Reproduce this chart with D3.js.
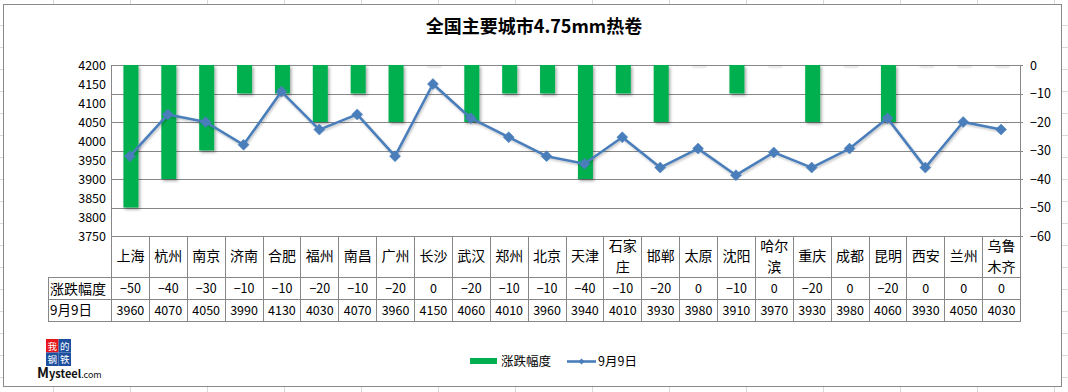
<!DOCTYPE html>
<html><head><meta charset="utf-8">
<script src="https://cdn.jsdelivr.net/npm/d3@7"></script>
<style>
html,body{margin:0;padding:0;background:#fff;}
svg{display:block;}
text{font-family:"Noto Sans CJK SC","Noto Sans",sans-serif;}
</style></head>
<body>
<svg id="chart" width="1068" height="392"></svg>
<script>
const categories = ["上海","杭州","南京","济南","合肥","福州","南昌","广州","长沙","武汉","郑州","北京","天津","石家庄","邯郸","太原","沈阳","哈尔滨","重庆","成都","昆明","西安","兰州","乌鲁木齐"];
const changeValues = [-50,-40,-30,-10,-10,-20,-10,-20,0,-20,-10,-10,-40,-10,-20,0,-10,0,-20,0,-20,0,0,0];
const priceValues = [3960,4070,4050,3990,4130,4030,4070,3960,4150,4060,4010,3960,3940,4010,3930,3980,3910,3970,3930,3980,4060,3930,4050,4030];
const leftTicks = [3750,3800,3850,3900,3950,4000,4050,4100,4150,4200];
const rightTicks = [0,-10,-20,-30,-40,-50,-60];
const seriesNames = ["涨跌幅度","9月9日"];
const titleText = "全国主要城市4.75mm热卷";

const svg = d3.select("#chart");
const W = 1068, H = 392;
const plot = {l:111, r:1020, t:65, b:236};
const rowH = {cat:277, r1:299, r2:321};
const tableLeft = 48;
const gridC = "#878787";
const green = "#00B050", blue = "#4A7EBB";

const defs = svg.append("defs");
const f = defs.append("filter").attr("id","sh").attr("x","-50%").attr("y","-20%").attr("width","200%").attr("height","160%");
f.append("feDropShadow").attr("dx",1.5).attr("dy",2).attr("stdDeviation",1.6).attr("flood-color","#000").attr("flood-opacity",0.35);
const f2 = defs.append("filter").attr("id","sh2").attr("x","-10%").attr("y","-20%").attr("width","120%").attr("height","160%");
f2.append("feDropShadow").attr("dx",1).attr("dy",1.5).attr("stdDeviation",1).attr("flood-color","#000").attr("flood-opacity",0.25);

// Spreadsheet background grid
const bg = svg.append("g");
d3.range(53, W, 77).forEach(x => bg.append("line").attr("x1",x+0.5).attr("x2",x+0.5).attr("y1",0).attr("y2",H).attr("stroke","#d9d9d9"));
d3.range(25, H, 22).forEach(y => bg.append("line").attr("x1",0).attr("x2",W).attr("y1",y+0.5).attr("y2",y+0.5).attr("stroke","#d9d9d9"));
// chart area
svg.append("rect").attr("x",3.5).attr("y",4.5).attr("width",1058).attr("height",382).attr("fill","#fff").attr("stroke","#8a8a8a").attr("stroke-width",1);

// Title
svg.append("text").attr("x",534).attr("y",33).attr("text-anchor","middle").attr("font-size",18).attr("font-weight","bold").attr("fill","#000").text(titleText);

const x = d3.scaleBand().domain(categories).range([plot.l, plot.r]);
const yL = d3.scaleLinear().domain([3750,4200]).range([plot.b, plot.t]);
const yR = d3.scaleLinear().domain([-60,0]).range([plot.b, plot.t]);

// gridlines (right axis)
svg.append("g").selectAll("line").data(rightTicks).join("line")
  .attr("x1",plot.l).attr("x2",plot.r+3)
  .attr("y1",d=>Math.round(yR(d))+0.5).attr("y2",d=>Math.round(yR(d))+0.5)
  .attr("stroke",gridC).attr("stroke-width",1);

// axes lines
svg.append("line").attr("x1",plot.l+0.5).attr("x2",plot.l+0.5).attr("y1",plot.t).attr("y2",rowH.r2).attr("stroke",gridC);
svg.append("line").attr("x1",plot.r+0.5).attr("x2",plot.r+0.5).attr("y1",plot.t).attr("y2",rowH.r2).attr("stroke",gridC);

// left axis labels
const lAxis = d3.axisLeft(yL).tickValues(leftTicks).tickSize(0).tickPadding(5).tickFormat(d3.format("d"));
const gl = svg.append("g").attr("transform",`translate(${plot.l},0)`).call(lAxis);
gl.select(".domain").remove();
gl.selectAll("text").attr("font-size",12.5).attr("fill","#000").attr("font-family","'DejaVu Sans Condensed','DejaVu Sans',sans-serif");

// right axis labels
const rAxis = d3.axisRight(yR).tickValues(rightTicks).tickSize(0).tickPadding(10).tickFormat(d => d===0 ? "0" : "\u2212" + Math.abs(d));
const gr = svg.append("g").attr("transform",`translate(${plot.r},0)`).call(rAxis);
gr.select(".domain").remove();
gr.selectAll("text").attr("font-size",12.5).attr("fill","#000").attr("font-family","'DejaVu Sans Condensed','DejaVu Sans',sans-serif");

// bars
const bw = 15;
svg.append("g").selectAll("rect").data(changeValues).join("rect")
  .attr("x",(d,i)=>x(categories[i]) + x.bandwidth()/2 - bw/2 + 1)
  .attr("y",yR(0))
  .attr("width",bw)
  .attr("height",d=>Math.max(yR(d)-yR(0), 0.01))
  .attr("fill",green).attr("filter","url(#sh)");
// faint smudge for zero bars
svg.append("g").selectAll("ellipse").data(changeValues.map((d,i)=>({d,i})).filter(o=>o.d===0)).join("ellipse")
  .attr("cx",o=>x(categories[o.i]) + x.bandwidth()/2 + 1.5)
  .attr("cy",yR(0)+2).attr("rx",8).attr("ry",1.6).attr("fill","#000").attr("opacity",0.07);

// line
const line = d3.line().x((d,i)=>x(categories[i]) + x.bandwidth()/2).y(d=>yL(d));
svg.append("path").datum(priceValues).attr("d",line).attr("fill","none").attr("stroke",blue).attr("stroke-width",2.6).attr("stroke-linejoin","round").attr("filter","url(#sh2)");
const diamond = "M0,-5.5L5.5,0L0,5.5L-5.5,0Z";
svg.append("g").selectAll("path").data(priceValues).join("path")
  .attr("transform",(d,i)=>`translate(${x(categories[i]) + x.bandwidth()/2},${yL(d)})`)
  .attr("d",diamond).attr("fill",blue).attr("stroke",blue).attr("stroke-width",0.5);

// data table
const tg = svg.append("g");
categories.forEach((c,i)=>{
  if(i===0) return;
  const xx = Math.round(x(c))+0.5;
  tg.append("line").attr("x1",xx).attr("x2",xx).attr("y1",plot.b).attr("y2",rowH.r2).attr("stroke",gridC);
});
tg.append("line").attr("x1",tableLeft+0.5).attr("x2",tableLeft+0.5).attr("y1",rowH.cat).attr("y2",rowH.r2).attr("stroke",gridC);
[rowH.cat,rowH.r1,rowH.r2].forEach(yy=>{
  tg.append("line").attr("x1",tableLeft).attr("x2",plot.r+1).attr("y1",yy+0.5).attr("y2",yy+0.5).attr("stroke",gridC);
});
categories.forEach((c,i)=>{
  const cx = x(c) + x.bandwidth()/2 + 0.5;
  let lines = [c];
  if(c.length>=3) lines = [c.slice(0,2), c.slice(2)];
  if(lines.length===1){
    tg.append("text").attr("x",cx).attr("y",261).attr("text-anchor","middle").attr("font-size",14).text(c);
  } else {
    tg.append("text").attr("x",cx).attr("y",251).attr("text-anchor","middle").attr("font-size",14).text(lines[0]);
    tg.append("text").attr("x",cx).attr("y",272).attr("text-anchor","middle").attr("font-size",14).text(lines[1]);
  }
});
tg.append("text").attr("x",50).attr("y",294).attr("font-size",14).text(seriesNames[0]);
tg.append("text").attr("x",50).attr("y",315).attr("font-size",13.5).text(seriesNames[1]);
const numFont = "'DejaVu Sans Condensed','DejaVu Sans',sans-serif";
changeValues.forEach((d,i)=>{
  tg.append("text").attr("x",x(categories[i]) + x.bandwidth()/2 + 0.5).attr("y",293).attr("text-anchor","middle")
    .attr("font-size",12.5).attr("font-family",numFont).text(d===0?"0":"\u2212"+Math.abs(d));
});
priceValues.forEach((d,i)=>{
  tg.append("text").attr("x",x(categories[i]) + x.bandwidth()/2 + 0.5).attr("y",315).attr("text-anchor","middle")
    .attr("font-size",12.5).attr("font-family",numFont).text(d);
});

// legend
const lg = svg.append("g");
lg.append("rect").attr("x",470).attr("y",358).attr("width",27).attr("height",6).attr("fill",green);
lg.append("text").attr("x",501).attr("y",366).attr("font-size",12.5).text(seriesNames[0]);
lg.append("line").attr("x1",567).attr("x2",596).attr("y1",361.5).attr("y2",361.5).attr("stroke",blue).attr("stroke-width",2.6);
lg.append("path").attr("transform","translate(581.5,361.5)").attr("d","M0,-3L3,0L0,3L-3,0Z").attr("fill",blue);
lg.append("text").attr("x",598).attr("y",366).attr("font-size",12.5).text(seriesNames[1]);

// logo
const logo = svg.append("g");
const sq = [["我","#e8141a",46,339],["的","#1d4f9f",58.5,339],["钢","#1d4f9f",46,352.5],["铁","#1d4f9f",58.5,352.5]];
sq.forEach(s=>{
  logo.append("rect").attr("x",s[2]).attr("y",s[3]).attr("width",12.5).attr("height",13.5).attr("fill",s[1]);
  logo.append("text").attr("x",s[2]+6.25).attr("y",s[3]+10.5).attr("text-anchor","middle").attr("font-size",9.5).attr("fill","#fff").attr("font-family","'Noto Serif CJK SC','Noto Sans CJK SC',serif").text(s[0]);
});
logo.append("text").attr("x",37).attr("y",378).attr("font-size",11).attr("font-weight","bold").attr("fill","#111").attr("font-family","'Liberation Sans',Arial,sans-serif")
  .html('<tspan font-size="14">M</tspan>ysteel<tspan font-size="9" font-weight="normal">.com</tspan>');
</script>
</body></html>
